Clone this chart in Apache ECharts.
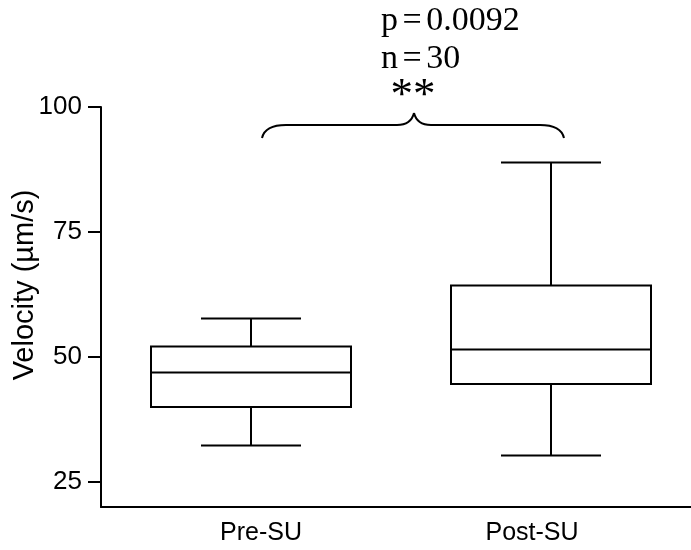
<!DOCTYPE html>
<html><head><meta charset="utf-8">
<script src="https://cdn.jsdelivr.net/npm/echarts@6/dist/echarts.min.js"></script>
<style>html,body{margin:0;padding:0;background:#fff}#c{width:691px;height:550px}</style>
</head><body><div id="c"></div>
<script>
var categories = ['Pre-SU', 'Post-SU'];
// [min, Q1, median, Q3, max]
var preSU = [32.3, 40.0, 46.9, 52.1, 57.7];
var postSU = [30.3, 44.6, 51.5, 64.3, 88.9];
var yTicks = [25, 50, 75, 100];
var statLines = ['p = 0.0092', 'n = 30'];
var sigMark = '**';
var yName = 'Velocity (µm/s)';

var chart = echarts.init(document.getElementById('c'));
var font = 'Liberation Sans, Arial, sans-serif';
var serif = '"Liberation Serif", "Times New Roman", serif';
var boxData = [[0].concat(preSU), [1].concat(postSU)];

function renderBox(params, api) {
  var i = api.value(0);
  var band = api.size([1, 0])[0];
  var bw = band * 2 / 3, cw = bw / 2;
  var pMin = api.coord([i, api.value(1)]);
  var pQ1 = api.coord([i, api.value(2)]);
  var pMed = api.coord([i, api.value(3)]);
  var pQ3 = api.coord([i, api.value(4)]);
  var pMax = api.coord([i, api.value(5)]);
  var cx = pMed[0];
  var st = {stroke: '#000', lineWidth: 2, fill: null};
  return {
    type: 'group',
    children: [
      {type: 'line', shape: {x1: cx, y1: pMax[1], x2: cx, y2: pQ3[1]}, style: st},
      {type: 'line', shape: {x1: cx, y1: pQ1[1], x2: cx, y2: pMin[1]}, style: st},
      {type: 'line', shape: {x1: cx - cw / 2, y1: pMax[1], x2: cx + cw / 2, y2: pMax[1]}, style: st},
      {type: 'line', shape: {x1: cx - cw / 2, y1: pMin[1], x2: cx + cw / 2, y2: pMin[1]}, style: st},
      {type: 'rect', shape: {x: cx - bw / 2, y: pQ3[1], width: bw, height: pQ1[1] - pQ3[1]}, style: {stroke: '#000', lineWidth: 2, fill: '#fff'}},
      {type: 'line', shape: {x1: cx - bw / 2, y1: pMed[1], x2: cx + bw / 2, y2: pMed[1]}, style: st}
    ]
  };
}

var option = {
  animation: false,
  backgroundColor: '#fff',
  grid: {left: 101, top: 107, width: 600, bottom: 43, outerBoundsMode: 'none', containLabel: false},
  xAxis: {
    type: 'category', data: categories, boundaryGap: true,
    axisLine: {lineStyle: {color: '#000', width: 2}},
    axisTick: {show: false},
    axisLabel: {
      margin: 14, color: '#000', fontSize: 25, fontFamily: font,
      formatter: function (v) { return v === 'Pre-SU' ? '{a|' + v + '}' : '{b|' + v + '}'; },
      rich: {
        a: {fontSize: 25, fontFamily: font, color: '#000', padding: [0, 0, 0, 20]},
        b: {fontSize: 25, fontFamily: font, color: '#000', padding: [0, 38, 0, 0]}
      }
    },
    splitLine: {show: false}
  },
  yAxis: {
    type: 'value', min: 20, max: 100,
    axisLine: {show: true, lineStyle: {color: '#000', width: 2}},
    axisTick: {show: true, length: 13, lineStyle: {color: '#000', width: 2}, customValues: yTicks},
    axisLabel: {margin: 19, color: '#000', fontSize: 26, fontFamily: font, customValues: yTicks},
    splitLine: {show: false}
  },
  series: [{
    type: 'custom',
    renderItem: renderBox,
    encode: {x: 0, y: [1, 2, 3, 4, 5]},
    data: boxData
  }]
};
chart.setOption(option);

// tight word spacing as in the original: spaces set in a small size
function tight(s) {
  return s.split(' ').map(function (w) { return '{t|' + w + '}'; }).join('{s| }');
}
var richT = {
  t: {fontSize: 34, fontFamily: serif, color: '#000'},
  s: {fontSize: 18, fontFamily: serif, color: '#000'}
};

// annotation: brace + text, positioned from the axes
var pA = chart.convertToPixel({gridIndex: 0}, [0, 93.8]);
var pB = chart.convertToPixel({gridIndex: 0}, [1, 93.8]);
var x0 = pA[0] + 11, x1 = pB[0] + 13, yb = pA[1];
var xm = (x0 + x1) / 2 + 1;
var yf = yb - 13, yt = yb - 25;
var bst = {stroke: '#000', lineWidth: 2, fill: null};
chart.setOption({
  graphic: [
    {type: 'bezierCurve', shape: {x1: x0, y1: yb, cpx1: x0 + 3, cpy1: yf, x2: x0 + 24, y2: yf}, style: bst},
    {type: 'line', shape: {x1: x0 + 24, y1: yf, x2: xm - 17, y2: yf}, style: bst},
    {type: 'bezierCurve', shape: {x1: xm - 17, y1: yf, cpx1: xm - 3, cpy1: yf, x2: xm, y2: yt}, style: bst},
    {type: 'bezierCurve', shape: {x1: xm, y1: yt, cpx1: xm + 3, cpy1: yf, x2: xm + 17, y2: yf}, style: bst},
    {type: 'line', shape: {x1: xm + 17, y1: yf, x2: x1 - 24, y2: yf}, style: bst},
    {type: 'bezierCurve', shape: {x1: x1 - 24, y1: yf, cpx1: x1 - 3, cpy1: yf, x2: x1, y2: yb}, style: bst},
    {type: 'text', x: 381, y: 21.5, style: {text: tight(statLines[0]), rich: richT, fill: '#000', verticalAlign: 'middle'}},
    {type: 'text', x: 381, y: 59, style: {text: tight(statLines[1]), rich: richT, fill: '#000', verticalAlign: 'middle'}},
    {type: 'text', x: xm - 1, y: 96, style: {text: sigMark, font: '45px ' + serif, fill: '#000', align: 'center', verticalAlign: 'middle'}},
    {type: 'text', x: 25, y: 285, rotation: Math.PI / 2, style: {text: yName, font: '29px ' + font, fill: '#000', align: 'center', verticalAlign: 'middle'}}
  ]
});
</script></body></html>
